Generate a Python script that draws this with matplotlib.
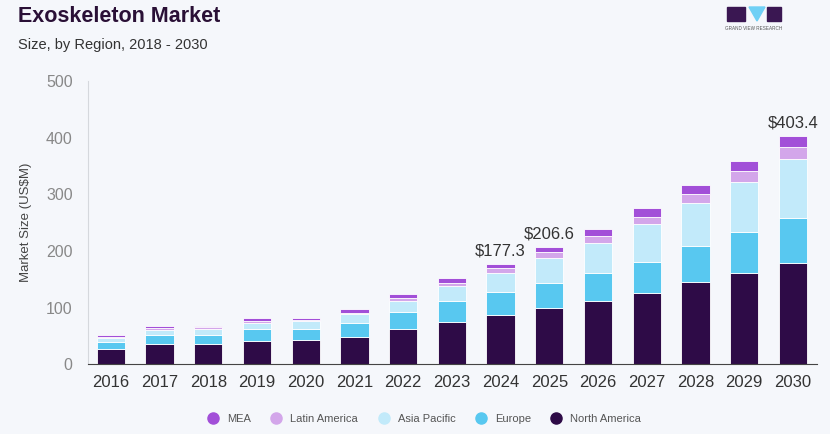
import matplotlib.pyplot as plt
import matplotlib.patches as mpatches
import numpy as np

plt.rcParams['font.family'] = ['Liberation Sans', 'DejaVu Sans']

years = ['2016', '2017', '2018', '2019', '2020', '2021', '2022', '2023',
         '2024', '2025', '2026', '2027', '2028', '2029', '2030']
north_america = [26.5, 35.3, 35.0, 40.6, 41.9, 48.3, 61.8, 74.8, 86.6, 98.3, 111.3, 124.9, 144.3, 160.2, 179.0]
europe        = [13.0, 16.5, 17.0, 20.8, 20.5, 24.7, 30.6, 36.5, 40.0, 45.4, 48.9, 54.8, 64.7, 72.5, 78.4]
asia_pacific  = [6.0, 8.2, 10.0, 11.6, 14.0, 15.0, 19.5, 26.5, 34.8, 44.2, 54.2, 67.7, 74.9, 88.3, 104.2]
latin_america = [2.5, 3.6, 3.0, 4.0, 2.0, 2.7, 4.7, 5.9, 7.6, 9.4, 12.3, 12.9, 16.5, 20.5, 21.2]
mea           = [3.0, 4.1, 3.0, 3.7, 3.5, 5.9, 7.1, 8.3, 8.3, 9.3, 11.3, 14.7, 15.3, 17.7, 20.6]

labels = {'2024': '$177.3', '2025': '$206.6', '2030': '$403.4'}

series = [('North America', north_america, '#2e0b47'),
          ('Europe', europe, '#58c8f0'),
          ('Asia Pacific', asia_pacific, '#c2eafa'),
          ('Latin America', latin_america, '#d3a6ea'),
          ('MEA', mea, '#a24fd8')]

bg = '#f5f7fb'
fig = plt.figure(figsize=(8.3, 4.34), dpi=100, facecolor=bg)
ax = fig.add_axes([0.106, 0.161, 0.878, 0.652], facecolor=bg)

x = np.arange(len(years))
bottom = np.zeros(len(years))
handles = []
for name, vals, col in series:
    ax.bar(x, vals, 0.58, bottom=bottom, color=col, edgecolor='white', linewidth=0.6)
    bottom += np.array(vals)
    handles.append(plt.Line2D([], [], marker='o', color=col, linestyle='', markersize=8, label=name))

for i, yr in enumerate(years):
    if yr in labels:
        ax.text(x[i], bottom[i] + 10, labels[yr], ha='center', va='bottom', fontsize=12, color='#333333')

ax.set_xlim(-0.47, 14.49)
ax.set_ylim(0, 500)
ax.set_yticks([0, 100, 200, 300, 400, 500])
ax.set_xticks(x)
ax.set_xticklabels(years)
ax.tick_params(axis='y', length=0, labelsize=11.5, labelcolor='#888888', pad=11)
ax.tick_params(axis='x', length=0, labelsize=12, labelcolor='#333333', pad=8)
for s in ['top', 'right']:
    ax.spines[s].set_visible(False)
ax.spines['left'].set_color('#d5d8dd')
ax.spines['bottom'].set_color('#444444')
ax.set_ylabel('Market Size (US$M)', fontsize=9.5, color='#444444', labelpad=10)

# legend, reversed order like the reference
leg = fig.legend(handles=handles[::-1], loc='center', bbox_to_anchor=(0.508, 0.035), ncol=5,
                 frameon=False, fontsize=8, handletextpad=0.25, columnspacing=1.3)
for t in leg.get_texts():
    t.set_color('#555555')

fig.text(0.022, 0.963, 'Exoskeleton Market', fontsize=15.5, fontweight='bold', color='#2a1036', va='center')
fig.text(0.022, 0.897, 'Size, by Region, 2018 - 2030', fontsize=10.5, color='#333333', va='center')

# small logo
W, H = 830, 434
def box(x0, y0, w, h, c):
    fig.patches.append(mpatches.Rectangle((x0 / W, 1 - (y0 + h) / H), w / W, h / H,
                                          transform=fig.transFigure, color=c))
box(727, 7, 18, 14, '#3a1752')
box(767, 7, 14, 14, '#3a1752')
fig.patches.append(mpatches.Polygon([(749 / W, 1 - 7 / H), (765 / W, 1 - 7 / H), (757 / W, 1 - 21 / H)],
                                    closed=True, transform=fig.transFigure, color='#6fd0f5'))
fig.text(754 / W, 1 - 28 / H, 'GRAND VIEW RESEARCH', fontsize=3.3, color='#555555', ha='center', va='center')

fig.savefig('out.png', dpi=100, facecolor=bg)
